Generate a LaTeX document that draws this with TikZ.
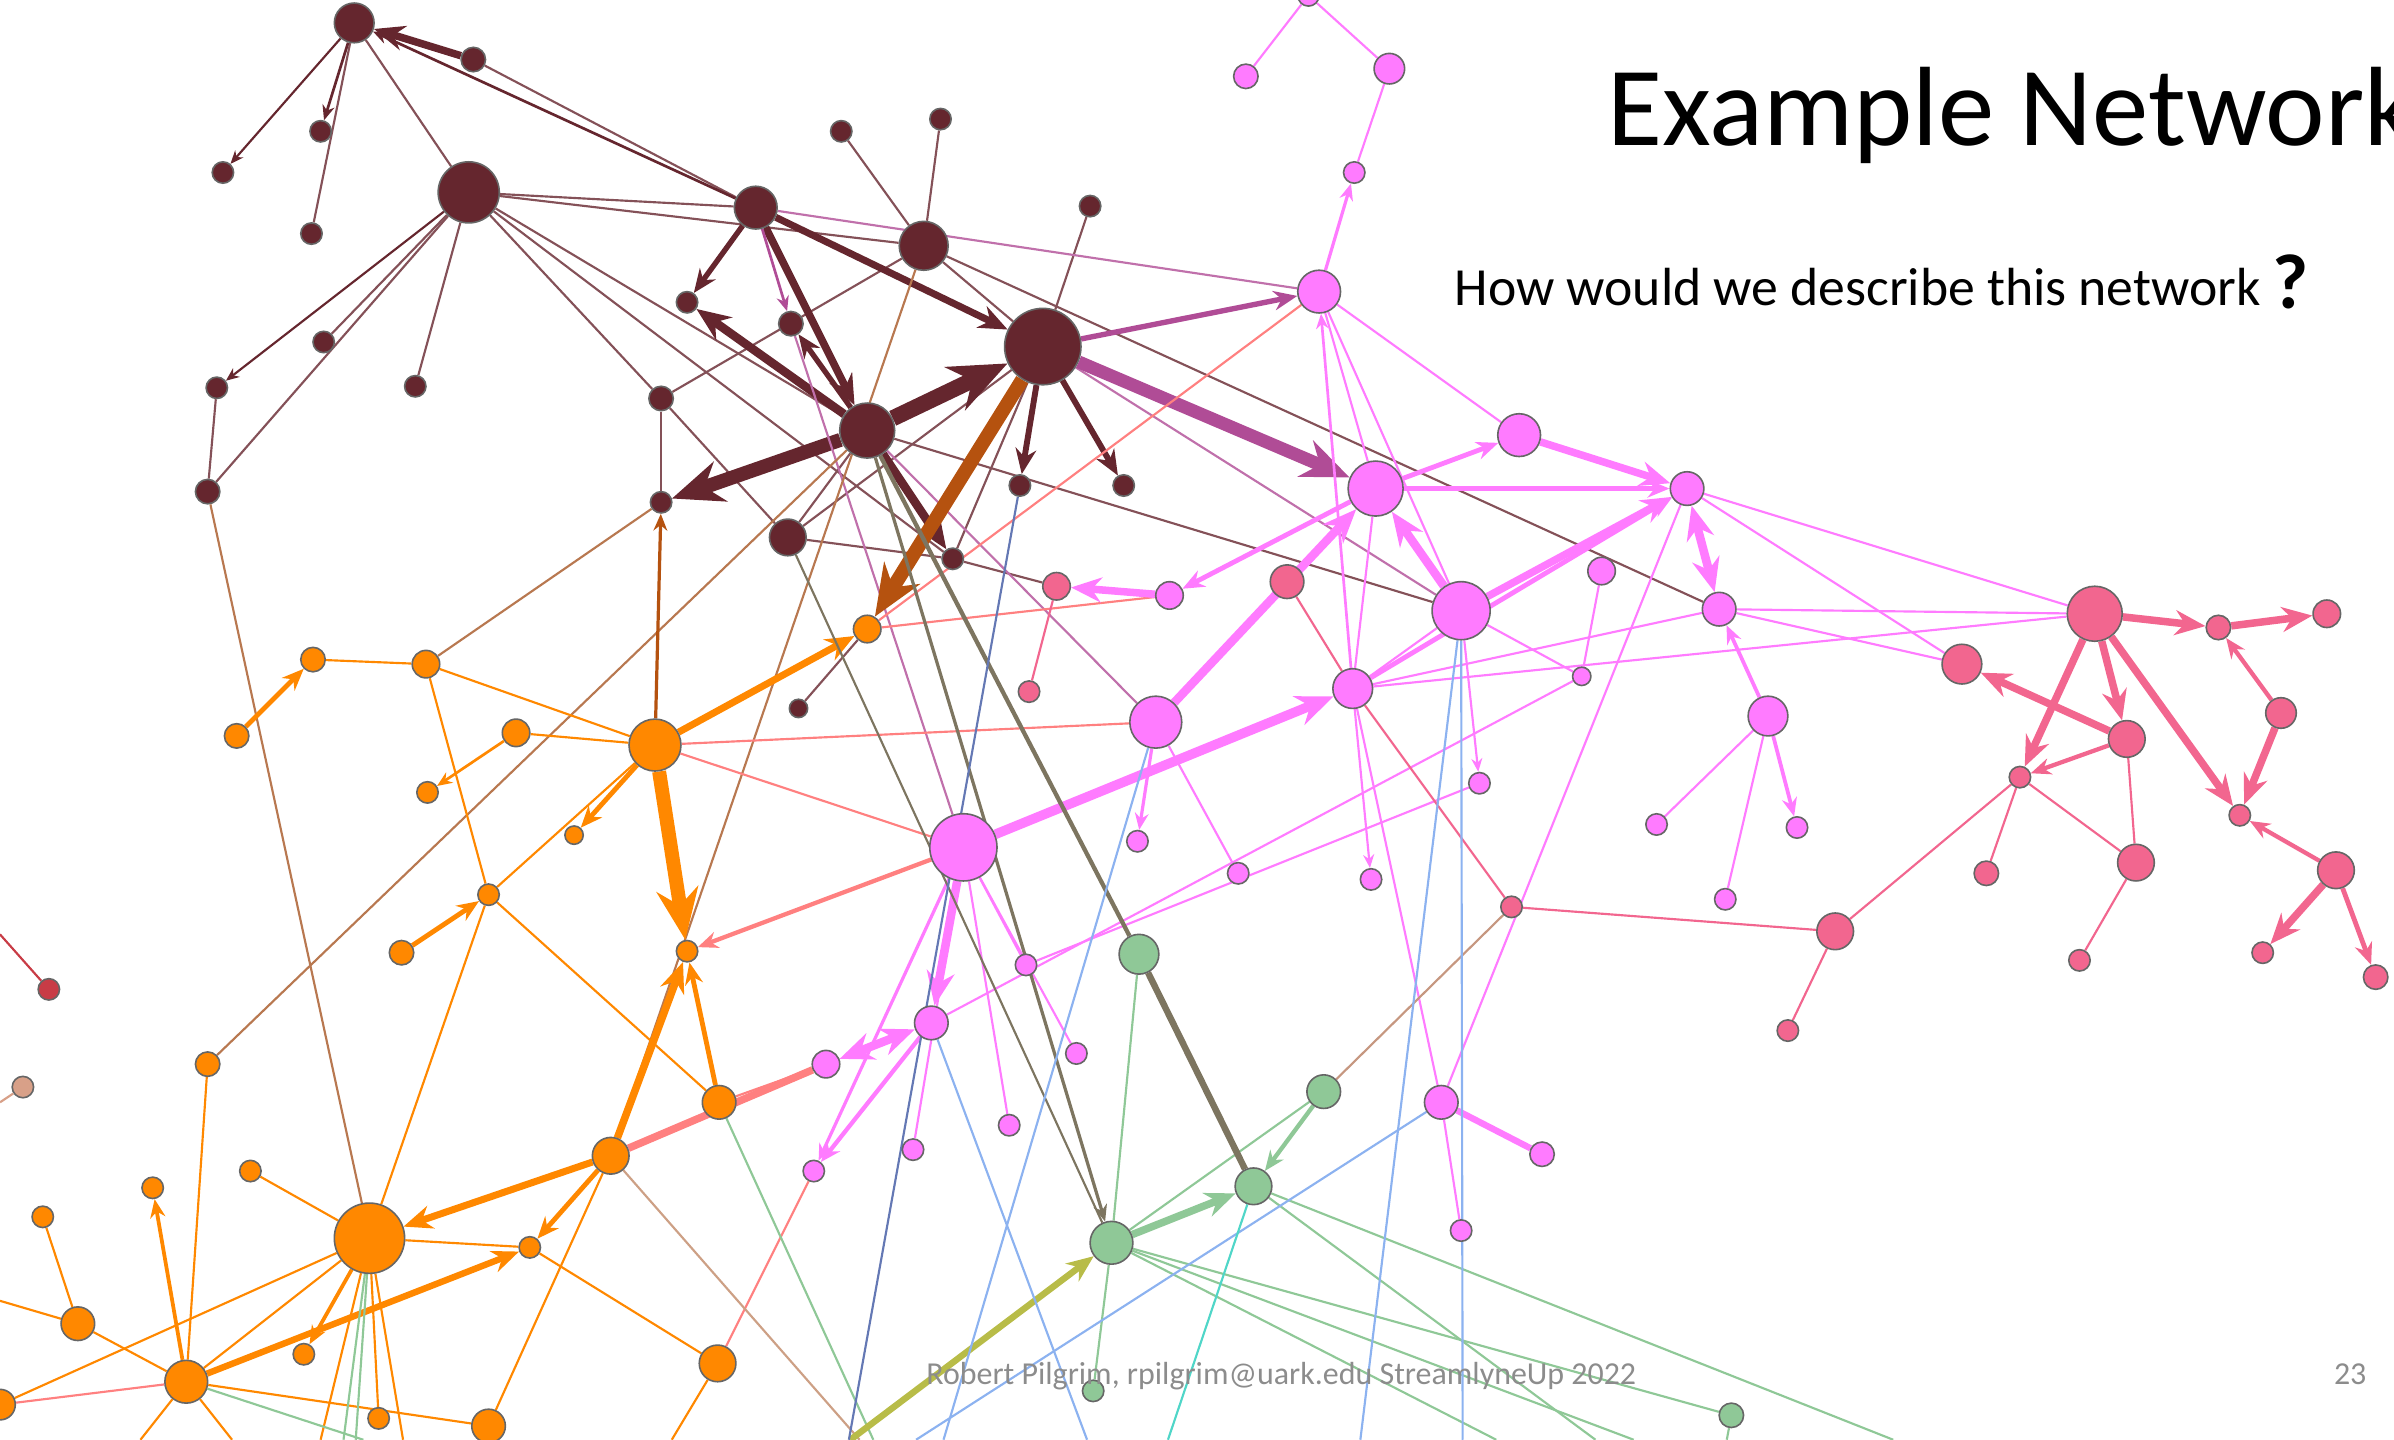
\documentclass[tikz,border=0pt]{standalone}
\usepackage{fontspec}
\setmainfont{Carlito}
\usetikzlibrary{arrows.meta,backgrounds}

\definecolor{maroon}{RGB}{101,38,46}
\definecolor{rust}{RGB}{181,82,15}
\definecolor{tanbrown}{RGB}{184,120,80}
\definecolor{orng}{RGB}{255,136,0}
\definecolor{magn}{RGB}{255,123,255}
\definecolor{plum}{RGB}{176,76,150}
\definecolor{rose}{RGB}{242,102,143}
\definecolor{salmon}{RGB}{255,128,128}
\definecolor{sage}{RGB}{143,200,151}
\definecolor{olivegray}{RGB}{125,117,96}
\definecolor{sky}{RGB}{140,178,240}
\definecolor{navy}{RGB}{100,120,180}
\definecolor{aqua}{RGB}{80,214,200}
\definecolor{mustard}{RGB}{184,188,72}
\definecolor{brick}{RGB}{200,60,70}
\definecolor{sand}{RGB}{216,160,136}

\begin{document}
\begin{tikzpicture}[x=0.01cm, y=-0.01cm, >={Stealth[length=1.2pt 3.2, width=1pt 2.6]},
    vtx/.style={circle, draw=black!60, line width=0.3pt, inner sep=0pt, minimum size=#1*0.02cm},
    mn/.style={vtx=#1, fill=maroon},
    orn/.style={vtx=#1, fill=orng},
    mgn/.style={vtx=#1, fill=magn},
    rsn/.style={vtx=#1, fill=rose},
    grn/.style={vtx=#1, fill=sage},
    ln/.style={line width=#1}, ln/.default=0.4pt,
    txt/.style={anchor=base west, inner sep=0pt}]

\useasboundingbox (0,0) rectangle (1568,943);
\clip (0,0) rectangle (1568,943);

% maroon cluster
\foreach \n/\x/\y/\r in {m1/232/15/13, m2/310/39/8, m3/210/86/7, m4/146/113/7, m5/204/153/7,
    m6/307/126/20, m7/495/136/14, m8/551/86/7, m9/616/78/7, m10/605/161/16, m11/714/135/7,
    m12/683/227/25, m13/450/198/7, m14/518/212/8, m15/212/224/7, m16/142/254/7, m17/272/253/7,
    m18/433/261/8, m19/568/282/18, m20/136/322/8, m21/433/329/7, m22/668/318/7, m23/736/318/7,
    m24/516/352/12, m25/624/366/7, m26/523/464/6}
  \node[mn=\r] (\n) at (\x,\y) {};

% orange cluster
\foreach \n/\x/\y/\r in {o1/568/412/9, o2/205/432/8, o3/279/435/9, o4/155/482/8, o5/338/480/9,
    o6/429/488/17, o7/280/519/7, o8/376/547/6, o9/320/586/7, o10/263/624/8, o11/450/623/7,
    o12/136/697/8, o13/471/722/11, o14/400/757/12, o15/100/778/7, o16/164/767/7, o17/28/797/7,
    o18/242/811/23, o19/347/817/7, o20/51/867/11, o21/199/887/7, o22/470/893/12, o23/122/905/14,
    o24/248/929/7, o25/320/934/11, o26/0/920/10}
  \node[orn=\r] (\n) at (\x,\y) {};

% magenta cluster
\foreach \n/\x/\y/\r in {p0/857/-3/7, p1/816/50/8, p2/910/45/10, p3/887/113/7, p4/864/191/14,
    p5/995/285/14, p6/901/320/18, p7/1105/320/11, p8/957/400/19, p9/766/390/9, p10/1049/374/9,
    p11/1126/399/11, p12/886/451/13, p13/1036/443/6, p14/757/473/17, p15/1158/469/13,
    p16/969/513/7, p17/745/551/7, p18/811/572/7, p19/898/576/7, p20/1085/540/7, p21/1177/542/7,
    p22/1130/589/7, p23/631/555/22, p24/672/632/7, p25/610/670/11, p26/705/690/7, p27/541/697/9,
    p28/661/737/7, p29/598/753/7, p30/533/767/7, p31/944/722/11, p32/1010/756/8, p33/957/806/7}
  \node[mgn=\r] (\n) at (\x,\y) {};

% rose cluster
\foreach \n/\x/\y/\r in {r1/692/384/9, r2/843/381/11, r3/674/453/7, r4/1372/402/18, r5/1453/411/8,
    r6/1524/402/9, r7/1285/435/13, r8/1393/484/12, r9/1494/467/10, r10/1323/509/7, r11/1467/534/7,
    r12/1301/572/8, r13/1399/565/12, r14/1530/570/12, r15/1202/610/12, r16/990/594/7,
    r17/1362/629/7, r18/1482/624/7, r19/1556/640/8, r20/1171/675/7}
  \node[rsn=\r] (\n) at (\x,\y) {};
\node[vtx=7, fill=brick] (r21) at (32,648) {};
\node[vtx=7, fill=sand] (r22) at (15,712) {};

% green cluster
\foreach \n/\x/\y/\r in {g1/746/625/13, g2/867/715/11, g3/821/777/12, g4/728/814/14,
    g5/716/911/7, g6/1134/927/8}
  \node[grn=\r] (\n) at (\x,\y) {};

% loose ends at the border
\foreach \n/\x/\y in {b1/556/943, b2/618/943, b3/712/943, b4/891/943, b5/958/943, b6/600/943,
    b7/572/943, b8/563/943, b9/557/943, b10/765/943, b11/1045/943, b12/1240/943, b13/1070/943,
    b14/980/943, b15/225/943, b16/233/943, b17/210/943, b18/264/943, b19/92/943, b20/152/943,
    b21/238/943, b22/440/943, b23/0/852, b24/0/612, b25/0/722, b26/1131/943}
  \coordinate (\n) at (\x,\y);

\begin{scope}[on background layer]
% maroon links
\foreach \a/\b in {m1/m5, m1/m6, m6/m7, m6/m10, m6/m15, m6/m17, m6/m20, m6/m18, m6/m19, m6/m25,
    m7/m2, m8/m10, m9/m10, m10/m12, m10/m18, m11/m12, m16/m20, m18/m21, m18/m24, m19/m24,
    m24/m12, m24/m25, m12/m25, m10/p11, m19/p8, m25/r1, m26/o1}
  \draw[maroon!80, ln] (\a) -- (\b);
\foreach \a/\b/\w in {m1/m3/0.5pt, m1/m4/0.4pt, m7/m1/0.5pt, m6/m16/0.4pt, m2/m1/1.4pt,
    m7/m13/1pt, m7/m12/1.3pt, m7/m19/1.4pt, m12/m22/1.1pt, m12/m23/1.1pt, m19/m14/1pt,
    m19/m25/1.6pt, m19/m13/1.6pt, m19/m21/2.6pt, m19/m12/3pt}
  \draw[maroon, ln=\w, ->] (\a) -- (\b);
\foreach \a/\b in {m7/p4, m12/p8, m14/p23, m19/p14}
  \draw[plum!80, ln] (\a) -- (\b);
\foreach \a/\b/\w in {m7/m14/0.5pt, m12/p4/1pt, m12/p6/2.4pt}
  \draw[plum, ln=\w, ->] (\a) -- (\b);
\foreach \a/\b in {o3/m21, m20/o18, o12/m19, m10/o14}
  \draw[tanbrown, ln] (\a) -- (\b);
\draw[rust, ln=0.6pt, ->] (o6) -- (m21);
\draw[rust, ln=2.6pt, ->] (m12) -- (o1);

% orange links
\foreach \a/\b in {o6/o5, o2/o3, o3/o6, o3/o9, o6/o9, o9/o13, o9/o18, o12/o23, o16/o18, o17/o20,
    o20/o23, o18/o23, o26/o18, o18/o19, o18/o24, o19/o22, o14/o25, o23/o25, o22/b22, o20/b23,
    o18/b17, o18/b18, o23/b19, o23/b20}
  \draw[orng, ln] (\a) -- (\b);
\foreach \a/\b/\w in {o4/o2/0.9pt, o6/o8/0.9pt, o5/o7/0.5pt, o10/o9/0.9pt, o13/o11/0.9pt,
    o14/o19/0.9pt, o23/o15/0.7pt, o18/o21/0.7pt, o6/o1/1.3pt, o23/o19/1.2pt, o14/o18/1.3pt,
    o14/o11/1.4pt, o6/o11/2.6pt}
  \draw[orng, ln=\w, ->] (\a) -- (\b);
\foreach \a/\b in {o6/p14, o6/p23, o13/p27, o1/p9, o1/p4, o23/o26, p30/o22}
  \draw[salmon, ln] (\a) -- (\b);
\draw[salmon, ln=1.4pt] (o14) -- (p27);
\draw[salmon, ln=0.8pt, ->] (p23) -- (o11);

% magenta links
\foreach \a/\b in {p0/p1, p0/p2, p2/p3, p4/p5, p4/p6, p4/p8, p6/p12, p8/p12, p8/p13, p10/p13,
    p7/r4, p7/r7, p11/r4, p11/r7, p12/r4, p12/p11, p12/p31, p7/p31, p14/p18, p15/p20, p15/p22,
    p23/p24, p23/p29, p23/p28, p23/p26, p25/p13, p24/p16, p31/p33}
  \draw[magn, ln] (\a) -- (\b);
\foreach \a/\b/\w in {p4/p3/0.6pt, p6/p5/0.9pt, p6/p7/0.9pt, p12/p4/0.5pt, p12/p7/0.9pt,
    p15/p11/0.7pt, p15/p21/0.7pt, p8/p16/0.4pt, p12/p19/0.4pt, p14/p17/0.6pt, p25/p30/0.8pt,
    p23/p30/0.6pt, p6/p9/0.9pt, p9/r1/1.4pt, p5/p7/1.4pt, p8/p7/1.4pt, p8/p6/1.6pt,
    p14/p6/1.6pt, p23/p12/1.8pt, p23/p25/1.6pt}
  \draw[magn, ln=\w, ->] (\a) -- (\b);
\foreach \a/\b/\w in {p7/p11/1.6pt, p25/p27/1.6pt}
  \draw[magn, ln=\w, <->] (\a) -- (\b);
\draw[magn, ln=1.2pt] (p31) -- (p32);

% rose links
\foreach \a/\b in {r2/p12, p12/r16, r16/r15, r15/r20, r10/r15, r10/r12, r10/r13, r8/r13,
    r13/r17, r3/r1}
  \draw[rose, ln] (\a) -- (\b);
\foreach \a/\b/\w in {r4/r5/1.4pt, r5/r6/1.4pt, r9/r5/0.8pt, r4/r10/1.4pt, r4/r8/1.4pt,
    r4/r11/1.4pt, r8/r7/1.4pt, r8/r10/0.8pt, r9/r11/1.4pt, r14/r11/0.8pt, r14/r18/1.4pt,
    r14/r19/0.9pt}
  \draw[rose, ln=\w, ->] (\a) -- (\b);
\draw[brick, ln] (b24) -- (r21);
\draw[sand, ln] (b25) -- (r22);
\draw[sand!80!olivegray, ln] (r16) -- (g2);

% green links
\foreach \a/\b in {g2/g4, g1/g4, g4/g5, g4/g6, g4/b13, g4/b14, g3/b11, g3/b12, g6/b26,
    o18/b15, o18/b16, o23/b21, o13/b7}
  \draw[sage, ln] (\a) -- (\b);
\draw[sage, ln=0.8pt, ->] (g2) -- (g3);
\draw[sage, ln=1.4pt, ->] (g4) -- (g3);
\draw[olivegray, ln=0.8pt] (m19) -- (g1);
\draw[olivegray, ln=1.2pt] (g1) -- (g3);
\draw[olivegray, ln=0.6pt, ->] (m19) -- (g4);
\draw[olivegray, ln] (m24) -- (g4);
\draw[tanbrown!70, ln] (o14) -- (b8);
\draw[mustard, ln=1.2pt, ->] (b9) -- (g4);

% blue links
\foreach \a/\b in {p14/b2, p25/b3, p8/b4, p8/b5, p31/b6}
  \draw[sky, ln] (\a) -- (\b);
\draw[navy, ln] (m22) -- (b1);
\draw[aqua, ln] (g3) -- (b10);
\end{scope}

% texts
\node[txt, font=\fontsize{21}{25}\selectfont] (title) at (1052,95) {Example Network};
\node[txt, font=\fontsize{10}{12}\selectfont] (question) at (952,200) {How would we describe this network};
\node[txt, font=\bfseries\fontsize{14.5}{14}\selectfont] (qmark) at (1488,202) {?};
\node[txt, text=black!45, font=\fontsize{5.95}{7}\selectfont] (footer) at (606,907) {Robert Pilgrim, rpilgrim@uark.edu StreamlyneUp 2022};
\node[txt, text=black!45, font=\fontsize{5.95}{7}\selectfont] (page) at (1528,907) {23};
\end{tikzpicture}
\end{document}
